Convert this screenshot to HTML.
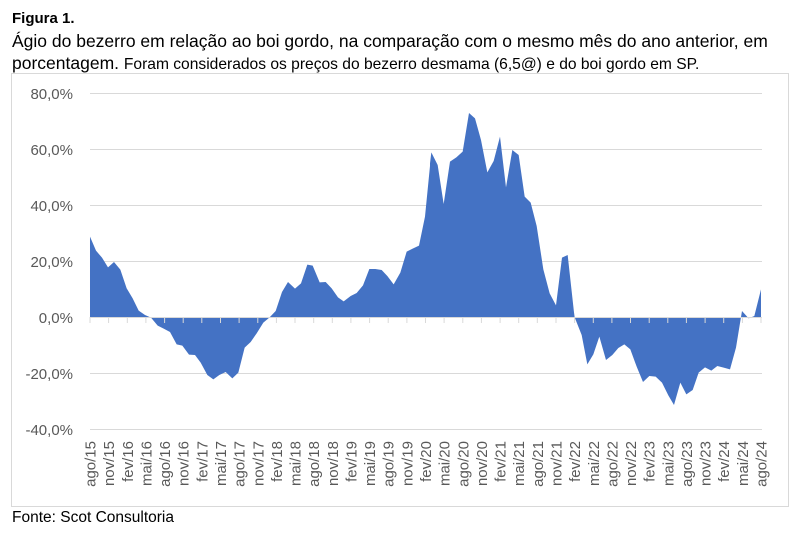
<!DOCTYPE html>
<html><head><meta charset="utf-8"><style>
body{margin:0;background:#fff;width:800px;height:534px;overflow:hidden;font-family:"Liberation Sans",sans-serif;}
</style></head><body>
<svg width="800" height="534" xmlns="http://www.w3.org/2000/svg" font-family="Liberation Sans, sans-serif">
<text x="12" y="23" font-size="15" font-weight="bold" fill="#000">Figura 1.</text>
<text x="12" y="47" font-size="17.5" fill="#000">Ágio do bezerro em relação ao boi gordo, na comparação com o mesmo mês do ano anterior, em</text>
<text x="12" y="69" font-size="17.5" fill="#000">porcentagem. <tspan font-size="15.6">Foram considerados os preços do bezerro desmama (6,5@) e do boi gordo em SP.</tspan></text>
<rect x="11.5" y="73.5" width="777" height="433" fill="none" stroke="#d9d9d9"/>
<g stroke="#d9d9d9" stroke-width="1">
<line x1="90" x2="762" y1="93.5" y2="93.5"/>
<line x1="90" x2="762" y1="149.5" y2="149.5"/>
<line x1="90" x2="762" y1="205.5" y2="205.5"/>
<line x1="90" x2="762" y1="261.5" y2="261.5"/>
<line x1="90" x2="762" y1="373.5" y2="373.5"/>
<line x1="90" x2="762" y1="429.5" y2="429.5"/>
</g>
<g font-size="15" fill="#595959" text-anchor="end">
<text x="73" y="99">80,0%</text>
<text x="73" y="155">60,0%</text>
<text x="73" y="211">40,0%</text>
<text x="73" y="267">20,0%</text>
<text x="73" y="323">0,0%</text>
<text x="73" y="379">-20,0%</text>
<text x="73" y="435">-40,0%</text>
</g>
<g transform="translate(80,80) scale(0.33333)" fill="#4472c4">
<polygon points="30,711 30,470 48,512 66,533 84,562 102,546 121,569 140,625 158,655 176,692 195,705 213,713 233,737 251,746 270,756 290,793 307,797 327,824 345,825 362,848 382,885 400,898 418,885 437,876 457,895 475,878 494,803 512,786 530,760 550,728 568,713 587,693 606,636 624,606 645,626 663,610 682,554 698,557 719,607 737,606 755,625 774,652 791,664 812,648 830,639 849,616 868,567 886,567 905,570 922,588 941,613 961,578 980,515 998,506 1017,497 1035,410 1051,248 1051,711"/>
</g>
<g transform="translate(400,80) scale(0.33333)" fill="#4472c4">
<polygon points="90,711 90,250 94,217 113,255 131,372 150,245 169,232 188,215 207,99 225,115 243,180 262,277 281,243 300,170 318,322 337,210 356,225 374,350 392,368 410,438 430,568 449,640 468,676 486,533 503,525 522,697 524,712 545,765 562,853 580,823 598,770 618,840 637,825 655,804 673,793 691,808 710,860 729,906 748,888 767,890 786,908 805,946 822,975 841,908 859,943 878,930 896,878 915,862 934,872 952,858 971,863 990,868 1008,803 1026,693 1046,715 1063,708 1083,628 1083,711"/>
</g>
<line x1="90" x2="762" y1="317.5" y2="317.5" stroke="#d9d9d9"/>
<g id="ticks" stroke="#d9d9d9"></g>
<g id="labels" font-size="15" fill="#595959"></g>
</svg>
<script>
var L=["ago/15","nov/15","fev/16","mai/16","ago/16","nov/16","fev/17","mai/17","ago/17","nov/17","fev/18","mai/18","ago/18","nov/18","fev/19","mai/19","ago/19","nov/19","fev/20","mai/20","ago/20","nov/20","fev/21","mai/21","ago/21","nov/21","fev/22","mai/22","ago/22","nov/22","fev/23","mai/23","ago/23","nov/23","fev/24","mai/24","ago/24"];
var ns="http://www.w3.org/2000/svg",t=document.getElementById("ticks"),g=document.getElementById("labels");
for(var i=0;i<L.length;i++){var x=90+i*671/36;
var l=document.createElementNS(ns,"line");l.setAttribute("x1",x.toFixed(1));l.setAttribute("x2",x.toFixed(1));l.setAttribute("y1","317");l.setAttribute("y2","323");t.appendChild(l);
var s=document.createElementNS(ns,"text");s.setAttribute("transform","translate("+(x+5.5).toFixed(1)+",441) rotate(-90)");s.setAttribute("text-anchor","end");s.textContent=L[i];g.appendChild(s);}
</script>
<div style="position:absolute;left:12px;top:509px;font-size:15.5px;color:#000;font-family:'Liberation Sans',sans-serif;">Fonte: Scot Consultoria</div>
</body></html>
